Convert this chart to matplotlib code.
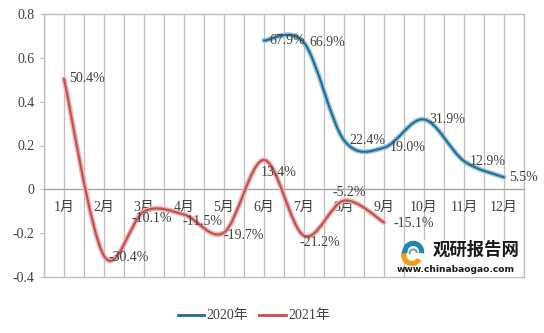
import numpy as np
import matplotlib
matplotlib.use('Agg')
import matplotlib.pyplot as plt
from matplotlib.path import Path
from matplotlib.patches import PathPatch, Rectangle, Wedge

plt.rcParams['font.family'] = ['Liberation Serif', 'Noto Sans CJK SC']

months = ['1月', '2月', '3月', '4月', '5月', '6月', '7月', '8月', '9月', '10月', '11月', '12月']
x2020 = [6, 7, 8, 9, 10, 11, 12]
y2020 = [0.679, 0.669, 0.224, 0.190, 0.319, 0.129, 0.055]
x2021 = [1, 2, 3, 4, 5, 6, 7, 8, 9]
y2021 = [0.504, -0.304, -0.101, -0.115, -0.197, 0.134, -0.212, -0.052, -0.151]
labels2020 = ['67.9%', '66.9%', '22.4%', '19.0%', '31.9%', '12.9%', '5.5%']
labels2021 = ['50.4%', '-30.4%', '-10.1%', '-11.5%', '-19.7%', '13.4%', '-21.2%', '-5.2%', '-15.1%']


def smooth_path(xs, ys):
    # excel-like smoothed line: cubic bezier through the points
    pts = np.column_stack([xs, ys]).astype(float)
    n = len(pts)
    verts = [pts[0]]
    codes = [Path.MOVETO]
    for i in range(n - 1):
        p0 = pts[i - 1] if i > 0 else pts[i]
        p1 = pts[i]
        p2 = pts[i + 1]
        p3 = pts[i + 2] if i + 2 < n else pts[i + 1]
        c1 = p1 + (p2 - p0) / 6.0
        c2 = p2 - (p3 - p1) / 6.0
        verts += [c1, c2, p2]
        codes += [Path.CURVE4] * 3
    return Path(verts, codes)


fig = plt.figure(figsize=(5.44, 3.33), dpi=100)
ax = fig.add_axes([44 / 544, 1 - 277 / 333, 480 / 544, 263 / 333])
ax.set_xlim(0.5, 12.5)
ax.set_ylim(-0.4, 0.8)

grey = '#BFBFBF'
for xv in np.arange(0.5, 12.51, 0.5):
    ax.axvline(xv, color=grey, lw=0.9, zorder=0)

for s in ['top', 'right', 'left']:
    ax.spines[s].set_color(grey)
    ax.spines[s].set_linewidth(1.0)
ax.spines['bottom'].set_position(('data', 0))
ax.spines['bottom'].set_color('#A6A6A6')
ax.spines['bottom'].set_linewidth(1.0)
ax.axhline(-0.4, color=grey, lw=1.0, clip_on=False)

ax.set_yticks([-0.4, -0.2, 0, 0.2, 0.4, 0.6, 0.8])
ax.set_yticklabels(['-0.4', '-0.2', '0', '0.2', '0.4', '0.6', '0.8'])
ax.tick_params(axis='y', length=3, color=grey, labelsize=10, labelcolor='#404040', pad=4)
ax.set_xticks([])
for i, m in enumerate(months):
    ax.annotate(m, (i + 1, 0), xytext=(0, -8), textcoords='offset points',
                ha='center', va='top', fontsize=10, color='#404040')

for xs, ys, light, dark in [(x2020, y2020, '#9CC3D8', '#1F6E96'),
                            (x2021, y2021, '#EDB1B0', '#C0504D')]:
    p = smooth_path(xs, ys)
    ax.add_patch(PathPatch(p, fill=False, ec=light, lw=3.6, capstyle='round', zorder=3))
    ax.add_patch(PathPatch(p, fill=False, ec=dark, lw=1.5, capstyle='round', zorder=4))

off2020 = [(4, 0), (4, 0), (4, 0), (4, 0), (4, 0), (4, 0), (4, 0)]
for xv, yv, t, o in zip(x2020, y2020, labels2020, off2020):
    ax.annotate(t, (xv, yv), xytext=o, textcoords='offset points',
                ha='left', va='center', fontsize=10, color='#404040', zorder=5)
off2021 = [(4, 0), (3, -1), (-9, -5), (-1, -5), (0, -2), (-2, -9), (-3, -5), (-8, 6), (7, -1)]
for xv, yv, t, o in zip(x2021, y2021, labels2021, off2021):
    ax.annotate(t, (xv, yv), xytext=o, textcoords='offset points',
                ha='left', va='center', fontsize=10, color='#404040', zorder=5)

# watermark
ax.add_patch(Rectangle((9.85, -0.4), 2.6, 0.17, facecolor='white', edgecolor='none', zorder=6))
logo = fig.add_axes([398 / 544, 1 - 266 / 333, 28 / 544, 26 / 333])
logo.set_xlim(0, 1)
logo.set_ylim(0, 1)
logo.set_aspect('equal')
logo.axis('off')
logo.add_patch(Wedge((0.5, 0.42), 0.42, 150, 330, width=0.2, facecolor='#F39A1E', edgecolor='none'))
logo.add_patch(Wedge((0.55, 0.55), 0.42, -10, 190, width=0.2, facecolor='#1E88B4', edgecolor='none'))
logo.add_patch(Wedge((0.55, 0.5), 0.18, 0, 200, width=0.09, facecolor='#7FA6B8', edgecolor='none'))
fig.text(433 / 544, 1 - 250 / 333, '观研报告网', fontsize=12.5, fontweight='bold',
         family='Noto Sans CJK SC', color='#1A1A1A', va='center', ha='left')
fig.text(456 / 544, 1 - 270 / 333, 'www.chinabaogao.com', fontsize=6.6, fontweight='bold',
         family='DejaVu Sans', color='#1A1A1A', va='center', ha='center')

h1, = ax.plot([], [], color='#1F6E96', lw=2.0)
h2, = ax.plot([], [], color='#C0504D', lw=2.0)
fig.legend([h1, h2], ['2020年', '2021年'], loc='center', bbox_to_anchor=(254 / 544, 1 - 316 / 333),
           ncol=2, frameon=False, fontsize=10, handlelength=1.9, columnspacing=0.8,
           handletextpad=0.2, labelcolor='#404040')

fig.savefig('out.png', dpi=100, facecolor='white')
